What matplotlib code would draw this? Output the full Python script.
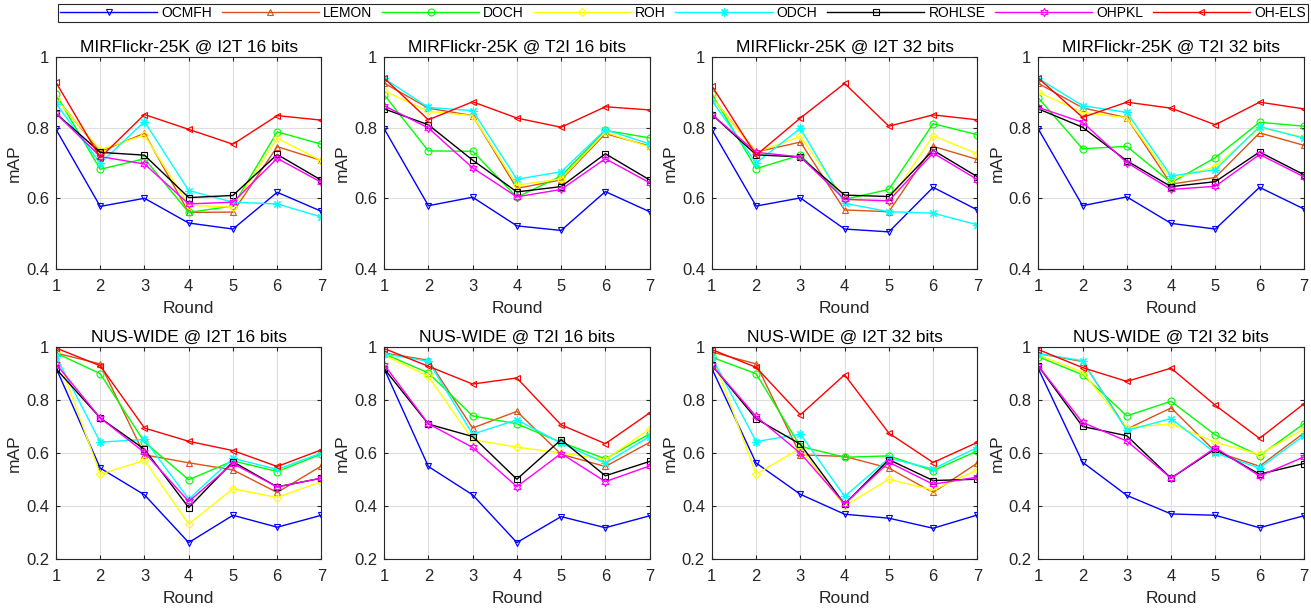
import numpy as np
import matplotlib
matplotlib.use("Agg")
import matplotlib.pyplot as plt

plt.rcParams['font.family'] = ['Liberation Sans', 'DejaVu Sans']

rounds = [1, 2, 3, 4, 5, 6, 7]
methods = ['OCMFH', 'LEMON', 'DOCH', 'ROH', 'ODCH', 'ROHLSE', 'OHPKL', 'OH-ELS']
colors = ['#0000ff', '#d9541a', '#00ff00', '#ffff00', '#00ffff', '#000000', '#ff00ff', '#ff0000']
markers = ['v', '^', 'o', 'D', (8, 2, 0), 's', (6, 1, 0), '<']
msizes = [5, 5, 5, 4, 6, 4, 6, 5]

# one row per method, same order as `methods`
mir_i2t_16 = [
    [0.795, 0.577, 0.600, 0.530, 0.513, 0.617, 0.563],
    [0.885, 0.732, 0.784, 0.560, 0.561, 0.746, 0.707],
    [0.894, 0.682, 0.712, 0.560, 0.578, 0.788, 0.753],
    [0.882, 0.737, 0.779, 0.580, 0.575, 0.770, 0.706],
    [0.868, 0.699, 0.817, 0.622, 0.589, 0.584, 0.547],
    [0.840, 0.730, 0.722, 0.602, 0.608, 0.724, 0.651],
    [0.840, 0.718, 0.697, 0.584, 0.589, 0.713, 0.645],
    [0.928, 0.715, 0.837, 0.795, 0.753, 0.834, 0.821],
]
mir_t2i_16 = [
    [0.797, 0.579, 0.603, 0.522, 0.509, 0.619, 0.562],
    [0.926, 0.855, 0.834, 0.628, 0.652, 0.783, 0.748],
    [0.893, 0.734, 0.733, 0.603, 0.663, 0.792, 0.771],
    [0.904, 0.846, 0.834, 0.637, 0.655, 0.787, 0.745],
    [0.939, 0.857, 0.848, 0.654, 0.675, 0.794, 0.754],
    [0.853, 0.808, 0.708, 0.618, 0.633, 0.726, 0.652],
    [0.862, 0.799, 0.686, 0.604, 0.625, 0.712, 0.644],
    [0.940, 0.822, 0.873, 0.827, 0.801, 0.859, 0.850],
]
mir_i2t_32 = [
    [0.794, 0.578, 0.601, 0.513, 0.505, 0.631, 0.567],
    [0.886, 0.731, 0.759, 0.567, 0.562, 0.747, 0.710],
    [0.895, 0.684, 0.722, 0.597, 0.625, 0.811, 0.780],
    [0.886, 0.730, 0.775, 0.597, 0.590, 0.777, 0.726],
    [0.876, 0.700, 0.798, 0.586, 0.562, 0.558, 0.525],
    [0.837, 0.723, 0.717, 0.609, 0.605, 0.736, 0.661],
    [0.837, 0.730, 0.717, 0.597, 0.593, 0.728, 0.653],
    [0.918, 0.722, 0.827, 0.925, 0.804, 0.836, 0.822],
]
mir_t2i_32 = [
    [0.796, 0.579, 0.604, 0.529, 0.513, 0.631, 0.570],
    [0.925, 0.856, 0.828, 0.640, 0.659, 0.785, 0.750],
    [0.884, 0.740, 0.747, 0.644, 0.715, 0.815, 0.804],
    [0.900, 0.843, 0.828, 0.655, 0.689, 0.800, 0.773],
    [0.939, 0.862, 0.843, 0.663, 0.681, 0.803, 0.770],
    [0.853, 0.801, 0.706, 0.633, 0.647, 0.731, 0.667],
    [0.857, 0.815, 0.701, 0.625, 0.634, 0.724, 0.661],
    [0.940, 0.829, 0.872, 0.855, 0.808, 0.872, 0.853],
]
nus_i2t_16 = [
    [0.921, 0.543, 0.442, 0.262, 0.365, 0.320, 0.365],
    [0.977, 0.936, 0.593, 0.563, 0.536, 0.451, 0.551],
    [0.977, 0.899, 0.641, 0.499, 0.570, 0.530, 0.596],
    [0.980, 0.520, 0.572, 0.332, 0.465, 0.432, 0.492],
    [0.965, 0.641, 0.651, 0.426, 0.580, 0.538, 0.600],
    [0.918, 0.732, 0.614, 0.394, 0.567, 0.472, 0.505],
    [0.936, 0.732, 0.602, 0.417, 0.560, 0.472, 0.505],
    [0.996, 0.929, 0.694, 0.644, 0.609, 0.549, 0.612],
]
nus_t2i_16 = [
    [0.918, 0.549, 0.442, 0.262, 0.360, 0.318, 0.363],
    [0.977, 0.950, 0.694, 0.757, 0.595, 0.549, 0.640],
    [0.974, 0.902, 0.740, 0.710, 0.640, 0.578, 0.672],
    [0.969, 0.889, 0.650, 0.622, 0.600, 0.575, 0.691],
    [0.974, 0.946, 0.671, 0.725, 0.637, 0.562, 0.662],
    [0.918, 0.709, 0.662, 0.501, 0.650, 0.514, 0.568],
    [0.933, 0.710, 0.621, 0.473, 0.598, 0.492, 0.551],
    [0.994, 0.927, 0.860, 0.883, 0.706, 0.635, 0.751],
]
nus_i2t_32 = [
    [0.918, 0.562, 0.444, 0.369, 0.354, 0.316, 0.366],
    [0.981, 0.936, 0.593, 0.587, 0.543, 0.451, 0.562],
    [0.961, 0.899, 0.625, 0.584, 0.589, 0.533, 0.608],
    [0.971, 0.520, 0.618, 0.400, 0.501, 0.460, 0.536],
    [0.961, 0.643, 0.671, 0.436, 0.580, 0.540, 0.621],
    [0.931, 0.729, 0.633, 0.407, 0.575, 0.496, 0.501],
    [0.931, 0.738, 0.599, 0.408, 0.565, 0.482, 0.509],
    [0.990, 0.923, 0.744, 0.895, 0.675, 0.564, 0.640],
]
nus_t2i_32 = [
    [0.918, 0.565, 0.440, 0.370, 0.365, 0.318, 0.363],
    [0.975, 0.945, 0.690, 0.770, 0.605, 0.550, 0.675],
    [0.963, 0.895, 0.740, 0.795, 0.668, 0.590, 0.710],
    [0.970, 0.905, 0.695, 0.710, 0.640, 0.595, 0.690],
    [0.975, 0.948, 0.685, 0.730, 0.600, 0.543, 0.665],
    [0.928, 0.700, 0.665, 0.505, 0.615, 0.520, 0.560],
    [0.928, 0.715, 0.645, 0.505, 0.620, 0.513, 0.585],
    [0.990, 0.922, 0.870, 0.920, 0.780, 0.655, 0.785],
]

panels = [
    ('MIRFlickr-25K @ I2T 16 bits', mir_i2t_16),
    ('MIRFlickr-25K @ T2I 16 bits', mir_t2i_16),
    ('MIRFlickr-25K @ I2T 32 bits', mir_i2t_32),
    ('MIRFlickr-25K @ T2I 32 bits', mir_t2i_32),
    ('NUS-WIDE @ I2T 16 bits', nus_i2t_16),
    ('NUS-WIDE @ T2I 16 bits', nus_t2i_16),
    ('NUS-WIDE @ I2T 32 bits', nus_i2t_32),
    ('NUS-WIDE @ T2I 32 bits', nus_t2i_32),
]

fig = plt.figure(figsize=(13.11, 6.12), dpi=100)

lefts = [0.0427, 0.293, 0.543, 0.792]
bottoms = [0.5605, 0.0866]
w, h = 0.2025, 0.3465

for k, (title, data) in enumerate(panels):
    row, col = divmod(k, 4)
    ax = fig.add_axes([lefts[col], bottoms[row], w, h])
    for i, m in enumerate(methods):
        ax.plot(rounds, data[i], color=colors[i], marker=markers[i], ms=msizes[i],
                mfc='none', mew=0.8, lw=1.0, label=m)
    ax.set_xlim(1, 7)
    if row == 0:
        ax.set_ylim(0.4, 1)
        ax.set_yticks([0.4, 0.6, 0.8, 1.0])
        ax.set_yticklabels(['0.4', '0.6', '0.8', '1'])
    else:
        ax.set_ylim(0.2, 1)
        ax.set_yticks([0.2, 0.4, 0.6, 0.8, 1.0])
        ax.set_yticklabels(['0.2', '0.4', '0.6', '0.8', '1'])
    ax.set_xticks(rounds)
    ax.grid(True, color='#dedede', lw=0.8)
    ax.set_axisbelow(True)
    ax.tick_params(direction='in', top=True, right=True, labelsize=12, length=3,
                   color='#262626', labelcolor='#262626')
    ax.tick_params(axis='x', pad=7)
    ax.tick_params(axis='y', pad=5)
    for s in ax.spines.values():
        s.set_color('#262626')
        s.set_linewidth(0.8)
    ax.set_title(title, fontsize=12.5, pad=4)
    ax.set_xlabel('Round', fontsize=12.5, color='#262626')
    ax.set_ylabel('mAP', fontsize=12.5, color='#262626')
    ax.xaxis.set_label_coords(0.5, -0.15)
    ax.yaxis.set_label_coords(-0.128, 0.5)
    if k == 0:
        handles, labels = ax.get_legend_handles_labels()

leg = fig.legend(handles, labels, loc='lower left', ncol=8, mode='expand',
                 bbox_to_anchor=(0.0442, 0.964, 0.9535, 0.0327),
                 fontsize=10, handlelength=7, handletextpad=0.3,
                 borderaxespad=0, borderpad=0.15, fancybox=False,
                 framealpha=1, edgecolor='#262626')
leg.get_frame().set_linewidth(0.8)

fig.savefig('out.png', dpi=100)
